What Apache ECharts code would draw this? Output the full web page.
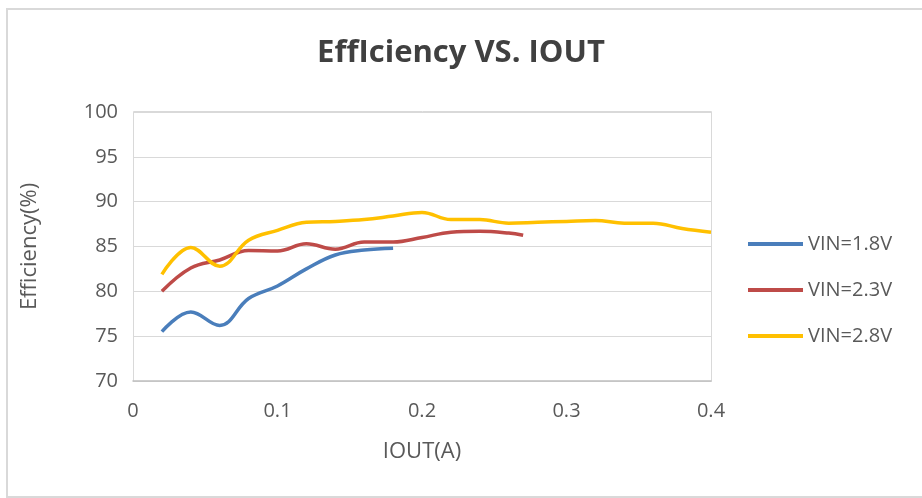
<!DOCTYPE html>
<html>
<head>
<meta charset="utf-8">
<script src="https://cdn.jsdelivr.net/npm/echarts@6/dist/echarts.min.js"></script>
<style>
  html, body { margin: 0; padding: 0; background: #fff; }
  #chart { width: 922px; height: 498px; }
</style>
</head>
<body>
<div id="chart"></div>
<script>
var seriesNames = ['VIN=1.8V', 'VIN=2.3V', 'VIN=2.8V'];
var iout18 = [0.02, 0.04, 0.06, 0.08, 0.10, 0.12, 0.14, 0.16, 0.18];
var eff18 = [75.5, 77.7, 76.2, 79.2, 80.6, 82.5, 84.05, 84.6, 84.8];
var iout23 = [0.02, 0.04, 0.06, 0.08, 0.10, 0.12, 0.14, 0.16, 0.18, 0.20, 0.22, 0.24, 0.26, 0.27];
var eff23 = [80.0, 82.6, 83.5, 84.55, 84.5, 85.3, 84.7, 85.5, 85.5, 86.0, 86.6, 86.7, 86.5, 86.25];
var iout28 = [0.02, 0.04, 0.06, 0.08, 0.10, 0.12, 0.14, 0.16, 0.18, 0.20, 0.22, 0.24, 0.26, 0.28, 0.30, 0.32, 0.34, 0.36, 0.38, 0.40];
var eff28 = [81.9, 84.9, 82.8, 85.7, 86.8, 87.7, 87.8, 88.0, 88.4, 88.8, 88.0, 88.0, 87.6, 87.7, 87.8, 87.9, 87.6, 87.6, 87.0, 86.6];
var colors = ['#4a7ebb', '#be4b48', '#ffc000'];

function pairs(xs, ys) {
    return xs.map(function (x, i) { return [x, ys[i]]; });
}

var chart = echarts.init(document.getElementById('chart'));
var font = '"Open Sans", "Noto Sans", sans-serif';

var option = {
    animation: false,
    color: colors,
    title: {
        text: 'EffIciency VS. IOUT',
        left: 'center',
        top: 33,
        textStyle: { fontFamily: font, fontSize: 31, fontWeight: 'bold', color: '#404040' }
    },
    graphic: [{
        type: 'rect',
        shape: { x: 7, y: 9, width: 930, height: 488 },
        style: { fill: null, stroke: '#d9d9d9', lineWidth: 2 },
        silent: true
    }, {
        type: 'rect',
        shape: { x: 133.5, y: 111.5, width: 578, height: 270 },
        style: { fill: null, stroke: '#d9d9d9', lineWidth: 1 },
        silent: true
    }],
    legend: {
        orient: 'vertical',
        left: 743,
        top: 229,
        icon: 'rect',
        itemWidth: 55,
        itemHeight: 4,
        itemGap: 26,
        textStyle: { fontFamily: font, fontSize: 20, color: '#595959' },
        data: seriesNames
    },
    grid: { left: 133, right: 211, top: 112, bottom: 117 },
    xAxis: {
        type: 'value',
        min: 0,
        max: 0.4,
        interval: 0.1,
        name: 'IOUT(A)',
        nameLocation: 'middle',
        nameGap: 60,
        nameTextStyle: { fontFamily: font, fontSize: 22, color: '#595959' },
        axisLine: { show: true, lineStyle: { color: '#bfbfbf', width: 1.5 } },
        axisTick: { show: false },
        splitLine: { show: false },
        axisLabel: { fontFamily: font, fontSize: 20, color: '#595959', margin: 20 }
    },
    yAxis: {
        type: 'value',
        min: 70,
        max: 100,
        interval: 5,
        name: 'Efficiency(%)',
        nameLocation: 'middle',
        nameGap: 92,
        nameTextStyle: { fontFamily: font, fontSize: 22, color: '#595959' },
        axisLine: { show: false },
        axisTick: { show: false },
        splitLine: { lineStyle: { color: '#d9d9d9', width: 1 } },
        axisLabel: { fontFamily: font, fontSize: 20, color: '#595959', margin: 15 }
    },
    series: [{
        name: seriesNames[0],
        type: 'line',
        smooth: 0.4,
        showSymbol: false,
        lineStyle: { width: 3.5 },
        data: pairs(iout18, eff18)
    }, {
        name: seriesNames[1],
        type: 'line',
        smooth: 0.4,
        showSymbol: false,
        lineStyle: { width: 3.5 },
        data: pairs(iout23, eff23)
    }, {
        name: seriesNames[2],
        type: 'line',
        smooth: 0.4,
        showSymbol: false,
        lineStyle: { width: 3.5 },
        data: pairs(iout28, eff28)
    }]
};

chart.setOption(option);
window.onresize = function () {
    chart.resize();
};
</script>
</body>
</html>
